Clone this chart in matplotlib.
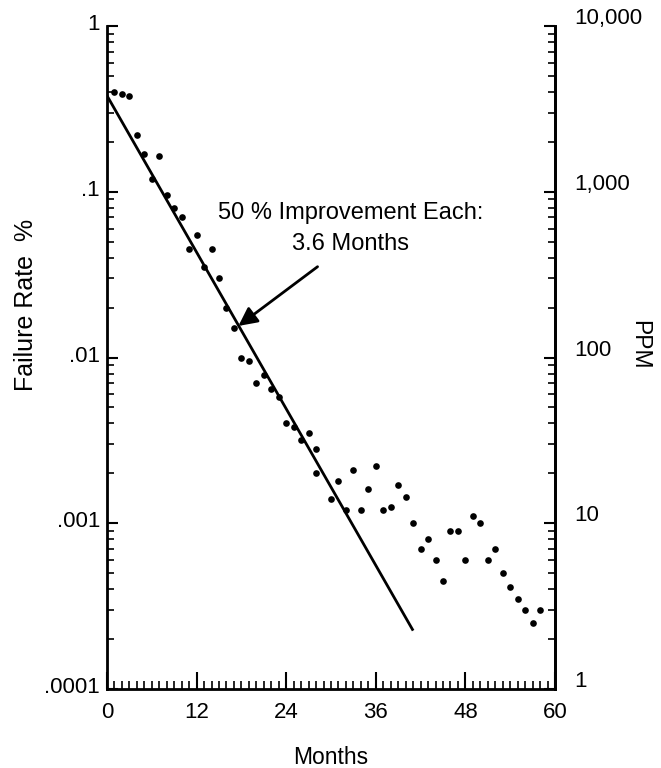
import numpy as np
import matplotlib
matplotlib.use('Agg')
import matplotlib.pyplot as plt
from matplotlib.transforms import ScaledTranslation

# ---- data ----
months = [1, 2, 3, 4, 5, 6, 7, 8, 9, 10, 11, 12, 13, 14, 15, 16, 17, 18, 19, 20,
          21, 22, 23, 24, 25, 26, 27, 28, 28, 30, 31, 32, 33, 34, 35, 36, 37, 38,
          39, 40, 41, 42, 43, 44, 45, 46, 47, 48, 49, 50, 51, 52, 53, 54, 55, 56,
          57, 58]
failure_pct = [0.40, 0.39, 0.38, 0.22, 0.17, 0.12, 0.165, 0.095, 0.08, 0.07,
               0.045, 0.055, 0.035, 0.045, 0.03, 0.02, 0.015, 0.010, 0.0095, 0.007,
               0.0078, 0.0065, 0.0058, 0.004, 0.0038, 0.0032, 0.0035, 0.0028, 0.002,
               0.0014, 0.0018, 0.0012, 0.0021, 0.0012, 0.0016, 0.0022, 0.0012,
               0.00125, 0.0017, 0.00145, 0.0010, 0.0007, 0.0008, 0.0006, 0.00045,
               0.0009, 0.0009, 0.0006, 0.0011, 0.0010, 0.0006, 0.0007, 0.0005,
               0.00041, 0.00035, 0.0003, 0.00025, 0.0003]

fit_months = [0, 41]
fit_pct = [0.38, 0.000225]

x_ticks = [0, 12, 24, 36, 48, 60]
left_ticks = [1e-4, 1e-3, 1e-2, 1e-1, 1]
left_labels = ['.0001', '.001', '.01', '.1', '1']
right_ticks = [1, 10, 100, 1000, 10000]
right_labels = ['1', '10', '100', '1,000', '10,000']

note = ['50 % Improvement Each:', '3.6 Months']

plt.rcParams['font.family'] = ['Liberation Sans', 'DejaVu Sans']

fig = plt.figure(figsize=(6.61, 7.68), dpi=100)
ax = fig.add_axes([107 / 661, 1 - 689 / 768, 448 / 661, 663 / 768])

ax.plot(months, failure_pct, 'o', color='black', markersize=4.8, markeredgewidth=0)
ax.plot(fit_months, fit_pct, color='black', lw=2, solid_capstyle='butt')

ax.set_yscale('log')
ax.set_ylim(1e-4, 1)
ax.set_xlim(0, 60)
ax.set_xticks(x_ticks)
ax.set_xticks(np.arange(0, 61, 1), minor=True)
ax.set_yticks(left_ticks, left_labels)
ax.yaxis.set_minor_formatter(plt.NullFormatter())

for s in ['left', 'right', 'bottom']:
    ax.spines[s].set_linewidth(2)
ax.spines['top'].set_visible(False)

ax.tick_params(axis='x', which='major', direction='in', length=12, width=1.5,
               labelsize=16, pad=9)
ax.tick_params(axis='x', which='minor', direction='in', length=6, width=1.2)
ax.tick_params(axis='y', which='major', direction='in', length=8, width=1.5,
               labelsize=16, pad=5)
ax.tick_params(axis='y', which='minor', direction='in', length=5, width=1.2)

# right hand PPM axis
ax2 = ax.twinx()
ax2.set_yscale('log')
ax2.set_ylim(1, 1e4)
ax2.set_yticks(right_ticks, right_labels)
ax2.yaxis.set_minor_formatter(plt.NullFormatter())
ax2.spines['top'].set_visible(False)
ax2.spines['right'].set_linewidth(2)
ax2.tick_params(axis='y', which='major', direction='in', length=8, width=1.5,
                labelsize=16, pad=14)
ax2.tick_params(axis='y', which='minor', direction='in', length=5, width=1.2)

# nudge tick labels upward like the original
up_right = ScaledTranslation(0, 10 / 100, fig.dpi_scale_trans)
for lab in ax2.get_yticklabels():
    lab.set_transform(lab.get_transform() + up_right)
up_left = ScaledTranslation(0, 4 / 100, fig.dpi_scale_trans)
for lab in ax.get_yticklabels():
    lab.set_transform(lab.get_transform() + up_left)

# annotation
ax.text(32.6, 0.0682, note[0], ha='center', va='baseline', fontsize=17)
ax.text(32.6, 0.0445, note[1], ha='center', va='baseline', fontsize=17)
ax.annotate('', xy=(17.6, 0.0155), xytext=(28.2, 0.0353),
            arrowprops=dict(arrowstyle='-|>', color='black', lw=2,
                            mutation_scale=28, shrinkA=0, shrinkB=0))

# axis titles
fig.text(26 / 661, 1 - 305 / 768, 'Failure Rate  %', rotation=90,
         ha='center', va='center', fontsize=18)
fig.text(640 / 661, 1 - 345 / 768, 'PPM', rotation=-90,
         ha='center', va='center', fontsize=16.5)
fig.text(331 / 661, 1 - 757 / 768, 'Months', ha='center', va='center', fontsize=16.5)

fig.savefig('out.png', dpi=100)
